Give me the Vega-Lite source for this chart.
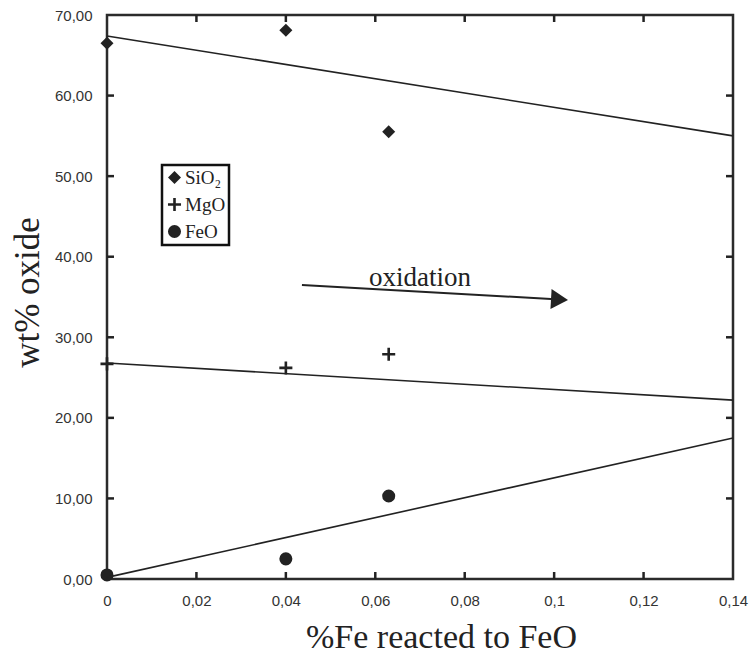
{
  "$schema": "https://vega.github.io/schema/vega-lite/v6.json",
  "width": 626,
  "height": 564,
  "autosize": {"type": "none"},
  "padding": {"left": 107, "top": 15, "right": 21, "bottom": 75},
  "background": "white",
  "datasets": {
    "points": [
      {"oxide": "SiO₂", "x": 0, "y": 66.5},
      {"oxide": "SiO₂", "x": 0.04, "y": 68.1},
      {"oxide": "SiO₂", "x": 0.063, "y": 55.5},
      {"oxide": "MgO", "x": 0, "y": 26.7},
      {"oxide": "MgO", "x": 0.04, "y": 26.2},
      {"oxide": "MgO", "x": 0.063, "y": 27.9},
      {"oxide": "FeO", "x": 0, "y": 0.5},
      {"oxide": "FeO", "x": 0.04, "y": 2.5},
      {"oxide": "FeO", "x": 0.063, "y": 10.3}
    ],
    "fits": [
      {"oxide": "SiO₂", "x": 0, "y": 67.4},
      {"oxide": "SiO₂", "x": 0.14, "y": 55.0},
      {"oxide": "MgO", "x": 0, "y": 26.8},
      {"oxide": "MgO", "x": 0.14, "y": 22.2},
      {"oxide": "FeO", "x": 0, "y": 0.2},
      {"oxide": "FeO", "x": 0.14, "y": 17.5}
    ],
    "arrow": [
      {"x": 0.0436, "y": 36.5, "x2": 0.1012, "y2": 34.7}
    ],
    "label": [
      {"x": 0.0700, "y": 36.4, "text": "oxidation"}
    ],
    "xticks": [{"v": 0.02}, {"v": 0.04}, {"v": 0.06}, {"v": 0.08}, {"v": 0.1}, {"v": 0.12}],
    "yticks": [{"v": 10}, {"v": 20}, {"v": 30}, {"v": 40}, {"v": 50}, {"v": 60}]
  },
  "layer": [
    {
      "data": {"name": "points"},
      "mark": {"type": "point", "filled": true, "color": "#222", "strokeWidth": 0, "size": 170, "opacity": 1},
      "encoding": {
        "x": {"field": "x", "type": "quantitative", "scale": {"domain": [0, 0.14], "nice": false, "zero": false},
          "axis": {"orient": "bottom", "values": [0, 0.02, 0.04, 0.06, 0.08, 0.1, 0.12, 0.14], "ticks": false, "domain": false, "labelExpr": "replace(format(datum.value, '.2~f'), '.', ',')", "title": "%Fe reacted to FeO", "titleFontSize": 34, "titleX": 334, "titleY": 58, "titleBaseline": "middle", "titleAlign": "center", "labelPadding": 14, "labelFlush": false}},
        "y": {"field": "y", "type": "quantitative", "scale": {"domain": [0, 70], "nice": false, "zero": false},
          "axis": {"orient": "left", "values": [0, 10, 20, 30, 40, 50, 60, 70], "ticks": false, "domain": false, "labelExpr": "replace(format(datum.value, '.2f'), '.', ',')", "title": "wt% oxide", "titleFontSize": 35, "titleAngle": 270, "titleX": -80, "titleY": 277, "titleBaseline": "middle", "titleAlign": "center", "labelPadding": 15}},
        "shape": {"field": "oxide", "type": "nominal",
          "scale": {"domain": ["SiO₂", "MgO", "FeO"], "range": ["diamond", "M-1,-0.2L-0.2,-0.2L-0.2,-1L0.2,-1L0.2,-0.2L1,-0.2L1,0.2L0.2,0.2L0.2,1L-0.2,1L-0.2,0.2L-1,0.2Z", "circle"]},
          "legend": {"orient": "none", "legendX": 55, "legendY": 150, "title": null}}
      }
    },
    {
      "data": {"name": "fits"},
      "mark": {"type": "line", "color": "#222", "strokeWidth": 1.6},
      "encoding": {
        "x": {"field": "x", "type": "quantitative"},
        "y": {"field": "y", "type": "quantitative"},
        "detail": {"field": "oxide", "type": "nominal"}
      }
    },
    {
      "data": {"name": "arrow"},
      "mark": {"type": "rule", "color": "#222", "strokeWidth": 2},
      "encoding": {
        "x": {"field": "x", "type": "quantitative"},
        "y": {"field": "y", "type": "quantitative"},
        "x2": {"field": "x2"},
        "y2": {"field": "y2"}
      }
    },
    {
      "data": {"name": "arrow"},
      "mark": {"type": "point", "shape": "M-0.85,-1L0.85,0L-0.85,1Z", "filled": true, "color": "#222", "size": 400, "angle": 3.2, "opacity": 1},
      "encoding": {
        "x": {"field": "x2", "type": "quantitative"},
        "y": {"field": "y2", "type": "quantitative"}
      }
    },
    {
      "data": {"name": "label"},
      "mark": {"type": "text", "font": "Liberation Serif", "fontSize": 27, "color": "#222", "align": "center", "baseline": "alphabetic"},
      "encoding": {
        "x": {"field": "x", "type": "quantitative"},
        "y": {"field": "y", "type": "quantitative"},
        "text": {"field": "text"}
      }
    },
    {
      "data": {"name": "xticks"},
      "mark": {"type": "tick", "orient": "vertical", "size": 14, "thickness": 2.5, "color": "#222", "opacity": 1, "clip": true},
      "encoding": {
        "x": {"field": "v", "type": "quantitative"},
        "y": {"datum": 0, "type": "quantitative"}
      }
    },
    {
      "data": {"name": "xticks"},
      "mark": {"type": "tick", "orient": "vertical", "size": 14, "thickness": 2.5, "color": "#222", "opacity": 1, "clip": true},
      "encoding": {
        "x": {"field": "v", "type": "quantitative"},
        "y": {"datum": 70, "type": "quantitative"}
      }
    },
    {
      "data": {"name": "yticks"},
      "mark": {"type": "tick", "orient": "horizontal", "size": 14, "thickness": 2.5, "color": "#222", "opacity": 1, "clip": true},
      "encoding": {
        "y": {"field": "v", "type": "quantitative"},
        "x": {"datum": 0, "type": "quantitative"}
      }
    },
    {
      "data": {"name": "yticks"},
      "mark": {"type": "tick", "orient": "horizontal", "size": 14, "thickness": 2.5, "color": "#222", "opacity": 1, "clip": true},
      "encoding": {
        "y": {"field": "v", "type": "quantitative"},
        "x": {"datum": 0.14, "type": "quantitative"}
      }
    }
  ],
  "config": {
    "view": {"stroke": "#2b2b2b", "strokeWidth": 2.5},
    "axis": {
      "grid": false,
      "labelFont": "Liberation Sans",
      "labelFontSize": 15,
      "labelColor": "#333",
      "titleFont": "Liberation Serif",
      "titleFontWeight": "normal",
      "titleColor": "#222"
    },
    "legend": {
      "strokeColor": "#111",
      "strokeWidth": 2.5,
      "padding": 3,
      "labelFont": "Liberation Serif",
      "labelFontSize": 19,
      "labelColor": "#222",
      "labelOffset": 1,
      "symbolSize": 170,
      "symbolFillColor": "#222",
      "symbolStrokeWidth": 0,
      "symbolOpacity": 1,
      "rowPadding": 7
    }
  }
}
